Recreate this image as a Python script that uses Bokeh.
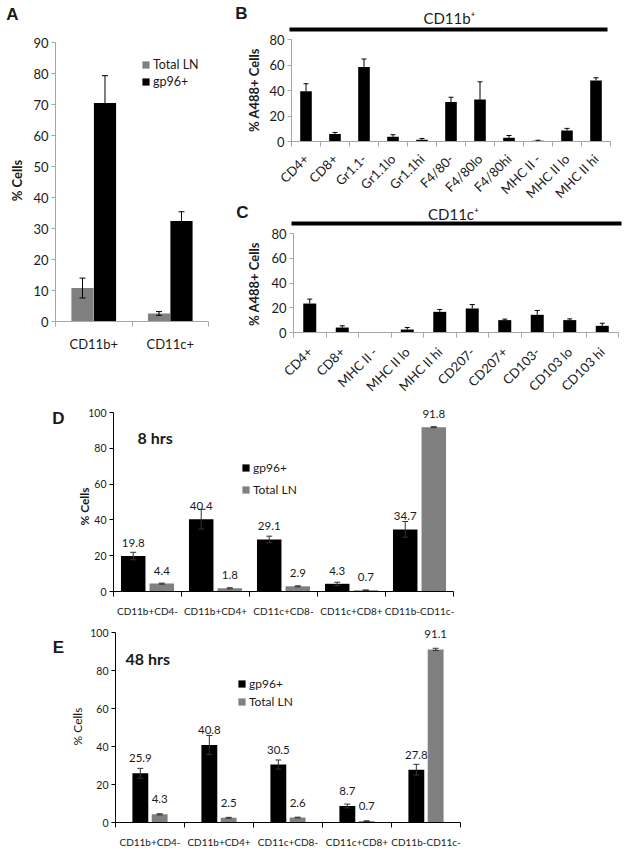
import math
import numpy as np
from bokeh.plotting import figure
from bokeh.models import (Range1d, FixedTicker, ColumnDataSource, Whisker, TeeHead,
                          Label, LabelSet, Legend, LegendItem)
from bokeh.layouts import row, column
from bokeh.embed import file_html
from bokeh.resources import INLINE
from bokeh.core.properties import value

FONT = "Lato"
LETTER_FONT = "Liberation Sans"
BLACK = "#000000"
GRAY = "#808080"
TEXT = "#1a1a1a"
LIGHT_AXIS = "#a6a6a6"

# ---------------- data ----------------
# Panel A
a_categories = ["CD11b+", "CD11c+"]
a_total_ln = [10.8, 2.6]
a_total_ln_err = [3.2, 0.6]
a_gp96 = [70.5, 32.4]
a_gp96_err = [8.8, 3.0]
a_yticks = [0, 10, 20, 30, 40, 50, 60, 70, 80, 90]

# Panel B
b_title = "CD11b\u207a"
b_categories = ["CD4+", "CD8+", "Gr1.1-", "Gr1.1lo", "Gr1.1hi", "F4/80-", "F4/80lo",
                "F4/80hi", "MHC II -", "MHC II lo", "MHC II hi"]
b_values = [39.5, 5.8, 58.4, 3.7, 1.3, 31.0, 32.9, 2.9, 0.5, 8.7, 47.9]
b_errors = [5.8, 1.3, 6.3, 1.6, 1.1, 3.7, 13.9, 1.8, 0.5, 1.6, 2.1]

# Panel C
c_title = "CD11c\u207a"
c_categories = ["CD4+", "CD8+", "MHC II -", "MHC II lo", "MHC II hi", "CD207-", "CD207+",
                "CD103-", "CD103 lo", "CD103 hi"]
c_values = [23.4, 4.0, 0.0, 2.4, 16.7, 19.4, 10.0, 14.3, 10.0, 5.4]
c_errors = [3.6, 1.4, 0.0, 1.6, 1.9, 3.2, 0.8, 3.5, 1.0, 2.1]
bc_yticks = [0, 20, 40, 60, 80]

# Panels D and E
de_categories = ["CD11b+CD4-", "CD11b+CD4+", "CD11c+CD8-", "CD11c+CD8+", "CD11b-CD11c-"]
de_yticks = [0, 20, 40, 60, 80, 100]
d_gp96 = [19.8, 40.4, 29.1, 4.3, 34.7]
d_gp96_err = [2.1, 5.5, 1.8, 0.9, 4.4]
d_total = [4.4, 1.8, 2.9, 0.7, 91.8]
d_total_err = [0.3, 0.3, 0.3, 0.2, 0.3]
e_gp96 = [25.9, 40.8, 30.5, 8.7, 27.8]
e_gp96_err = [2.6, 5.0, 2.4, 1.0, 2.8]
e_total = [4.3, 2.5, 2.6, 0.7, 91.1]
e_total_err = [0.3, 0.2, 0.2, 0.2, 0.6]


class Panel:
    """A figure whose frame fills the whole canvas; axes are pinned at x=0 / y=0."""

    def __init__(self, box, cats, x_px, y_px, yticks, axis_color, tick_fs, cat_fs,
                 angle=0.0, cat_standoff=6):
        fx, fy, fw, fh = box
        self.box = box
        n = len(cats)
        x0px, x1px = x_px
        sx = (x1px - x0px) / n
        y0px, ytop_px = y_px
        ytop = yticks[-1]
        sy = (y0px - ytop_px) / ytop
        self.sy = sy
        p = figure(width=fw, height=fh,
                   x_range=Range1d((fx - x0px) / sx, n + (fx + fw - x1px) / sx),
                   y_range=Range1d(-(fy + fh - y0px) / sy, ytop + (ytop_px - fy) / sy),
                   output_backend="svg", toolbar_location=None, title=None,
                   min_border_left=0, min_border_right=0, min_border_top=0, min_border_bottom=0)
        p.xgrid.visible = False
        p.ygrid.visible = False
        p.outline_line_color = None
        p.border_fill_color = "white"
        yax = p.yaxis[0]
        yax.fixed_location = 0
        yax.ticker = FixedTicker(ticks=yticks)
        yax.bounds = (yticks[0], ytop)
        yax.axis_line_color = axis_color
        yax.major_tick_line_color = axis_color
        yax.major_tick_in = 0
        yax.major_tick_out = 4
        yax.minor_tick_line_color = None
        yax.major_label_text_font = FONT
        yax.major_label_text_font_size = tick_fs
        yax.major_label_text_color = TEXT
        yax.major_label_standoff = 3
        xax = p.xaxis[0]
        xax.fixed_location = 0
        centers = [float(i) + 0.5 for i in range(n)]
        xax.ticker = FixedTicker(ticks=centers, minor_ticks=[float(i) for i in range(n + 1)])
        xax.major_label_overrides = {c: lab for c, lab in zip(centers, cats)}
        xax.bounds = (0, n)
        xax.axis_line_color = axis_color
        xax.major_tick_line_color = None
        xax.major_tick_in = 0
        xax.major_tick_out = 0
        xax.minor_tick_line_color = axis_color
        xax.minor_tick_in = 0
        xax.minor_tick_out = 5
        xax.major_label_text_font = FONT
        xax.major_label_text_font_size = cat_fs
        xax.major_label_text_color = TEXT
        xax.major_label_standoff = cat_standoff
        if angle:
            xax.major_label_orientation = angle
        self.p = p

    def screen(self, rx, ry):
        fx, fy, fw, fh = self.box
        return rx - fx, fy + fh - ry

    def label(self, rx, ry, text, font, size, bold=False, angle=0.0, align="center"):
        sx, sy = self.screen(rx, ry)
        self.p.add_layout(Label(x=sx, y=sy, x_units="screen", y_units="screen", text=text,
                                text_font=font, text_font_size=size,
                                text_font_style="bold" if bold else "normal",
                                text_align=align, text_baseline="middle", angle=angle,
                                text_color=TEXT))

    def bars(self, xs, vals, errs, width, color, err_color, symmetric=True, head=6):
        p = self.p
        src = ColumnDataSource(dict(x=xs, top=vals))
        r = p.vbar(x="x", top="top", width=width, source=src, fill_color=color, line_color=None)
        keep = [i for i, e in enumerate(errs) if e > 0]
        wsrc = ColumnDataSource(dict(
            base=[xs[i] for i in keep],
            lower=[(vals[i] - errs[i]) if symmetric else vals[i] for i in keep],
            upper=[vals[i] + errs[i] for i in keep]))
        w = Whisker(source=wsrc, base="base", lower="lower", upper="upper", dimension="height",
                    line_color=err_color, line_width=1,
                    upper_head=TeeHead(size=head, line_color=err_color, line_width=1),
                    lower_head=TeeHead(size=head, line_color=err_color, line_width=1) if symmetric else None)
        w.level = "overlay"
        p.add_layout(w)
        return r

    def legend(self, items, box_left, last_center, spacing, fs="12px"):
        sx, sy = self.screen(box_left, last_center + 8)
        lg = Legend(items=[LegendItem(label=lab, renderers=[r]) for lab, r in items],
                    location=(sx, sy), glyph_width=9, glyph_height=9, label_height=16,
                    spacing=spacing, padding=0, margin=0, label_standoff=3,
                    border_line_color=None, background_fill_alpha=0,
                    label_text_font=FONT, label_text_font_size=fs, label_text_color=TEXT)
        self.p.add_layout(lg)


# ---------------- Panel A ----------------
A = Panel((0, 0, 218, 405), a_categories, (55, 208), (321, 42), a_yticks, LIGHT_AXIS,
          "13px", "13px", cat_standoff=9)
xa = np.arange(len(a_categories)) + 0.5
ra_gray = A.bars(list(xa - 0.147), a_total_ln, a_total_ln_err, 0.29, GRAY, BLACK)
ra_black = A.bars(list(xa + 0.147), a_gp96, a_gp96_err, 0.29, BLACK, BLACK)
A.legend([("Total LN", ra_gray), ("gp96+", ra_black)], 141, 81, 1, "12.5px")
A.label(12, 14, "A", LETTER_FONT, "17px", bold=True)
A.label(16, 180, "% Cells", FONT, "13px", bold=True, angle=math.pi / 2)


# ---------------- Panels B / C ----------------
def bc_panel(box, cats, vals, errs, title, x_px, y_px, line_ref, title_ref, letter,
             letter_ref, ylab_ref, standoff):
    n = len(cats)
    P = Panel(box, cats, x_px, y_px, bc_yticks, LIGHT_AXIS, "13px", "13px",
              angle=math.pi / 4, cat_standoff=standoff)
    xs = list(np.arange(n) + 0.5)
    P.bars(xs, vals, errs, 0.4, BLACK, BLACK, symmetric=False, head=5)
    sx = (x_px[1] - x_px[0]) / n
    lx0 = (line_ref[0] - x_px[0]) / sx
    lx1 = (line_ref[1] - x_px[0]) / sx
    ly = (y_px[0] - line_ref[2]) / P.sy
    P.p.segment(x0=[lx0], y0=[ly], x1=[lx1], y1=[ly], line_width=4, line_color=BLACK)
    P.label(title_ref[0], title_ref[1], title, FONT, "15px")
    P.label(letter_ref[0], letter_ref[1], letter, LETTER_FONT, "17px", bold=True)
    P.label(ylab_ref[0], ylab_ref[1], "% A488+  Cells", FONT, "13px", bold=True,
            angle=math.pi / 2)
    return P


B = bc_panel((218, 0, 406, 200), b_categories, b_values, b_errors, b_title,
             (291, 610), (141, 39), (289, 607, 29), (449, 17), "B", (241, 13), (253, 88), 10)
C = bc_panel((218, 200, 406, 205), c_categories, c_values, c_errors, c_title,
             (293, 618), (332, 233), (291, 621, 223), (453, 213), "C", (242, 212), (253, 282), 12)


# ---------------- Panels D / E ----------------
def de_panel(box, x_px, y_px, gp, gp_err, tot, tot_err, offset, bw, label_off, hrs,
             hrs_ref, letter, letter_ref, ylab_ref, ylab_bold, legend_left, legend_last,
             legend_sp, cat_standoff):
    n = len(de_categories)
    P = Panel(box, de_categories, x_px, y_px, de_yticks, BLACK, "10.5px", "10px",
              cat_standoff=cat_standoff)
    xs = np.arange(n) + 0.5
    xb = list(xs - offset)
    xg = list(xs + offset)
    rb = P.bars(xb, gp, gp_err, bw, BLACK, "#333333")
    rg = P.bars(xg, tot, tot_err, bw, GRAY, "#333333")
    lsrc = ColumnDataSource(dict(
        x=xb + xg, y=list(gp) + list(tot),
        t=[f"{v:.1f}" for v in list(gp) + list(tot)]))
    P.p.add_layout(LabelSet(x="x", y="y", text="t", source=lsrc, y_offset=label_off,
                            text_align="center", text_baseline="middle",
                            text_font=value(FONT), text_font_size="11.5px", text_color=TEXT))
    P.legend([("gp96+", rb), ("Total LN", rg)], legend_left, legend_last, legend_sp, "12px")
    P.label(hrs_ref[0], hrs_ref[1], hrs, FONT, "16px", bold=True, align="left")
    P.label(letter_ref[0], letter_ref[1], letter, LETTER_FONT, "17px", bold=True)
    P.label(ylab_ref[0], ylab_ref[1], "% Cells", FONT, "12px", bold=ylab_bold,
            angle=math.pi / 2)
    return P


D = de_panel((0, 405, 624, 223), (113, 453), (591, 412), d_gp96, d_gp96_err, d_total,
             d_total_err, 0.21, 0.36, 13, "8 hrs", (137, 437), "D", (58, 418), (84, 506),
             True, 241, 489, 6, 8)
E = de_panel((0, 628, 624, 220), (115, 460), (822, 632), e_gp96, e_gp96_err, e_total,
             e_total_err, 0.14, 0.23, 15, "48 hrs", (125, 658), "E", (58, 647), (77, 726),
             False, 237, 701, 2, 8)

layout = column(row(A.p, column(B.p, C.p)), D.p, E.p)

open("out.html", "w").write(file_html(layout, INLINE))
